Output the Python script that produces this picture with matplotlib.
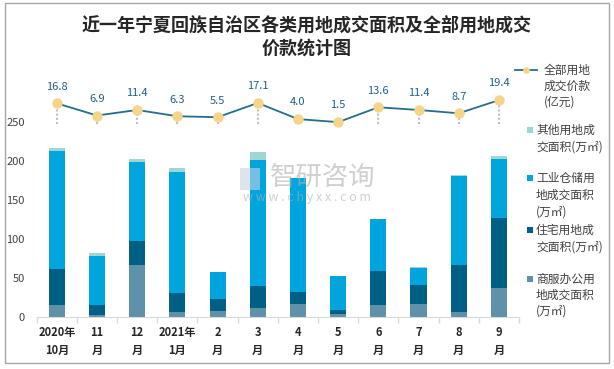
import numpy as np
import matplotlib
matplotlib.use("Agg")
import matplotlib.pyplot as plt
from matplotlib.patches import Rectangle
from matplotlib.lines import Line2D

plt.rcParams['font.family'] = ['Noto Sans CJK SC', 'DejaVu Sans']

categories = ["2020年\n10月", "11\n月", "12\n月", "2021年\n1月", "2\n月", "3\n月",
              "4\n月", "5\n月", "6\n月", "7\n月", "8\n月", "9\n月"]
commercial = [15.4, 2.6, 66.8, 6.4, 7.7, 11.6, 16.7, 3.9, 15.4, 16.7, 6.4, 37.2]
residential = [46.2, 12.8, 30.8, 24.4, 15.4, 28.2, 15.4, 5.1, 43.7, 24.4, 60.4, 89.9]
industrial = [151.5, 62.9, 101.4, 155.3, 34.7, 161.7, 146.3, 43.6, 66.7, 21.8, 114.2, 75.7]
other = [3.9, 3.9, 3.8, 5.2, 0, 10.3, 0, 0, 0, 1.3, 1.3, 3.9]
price = [16.8, 6.9, 11.4, 6.3, 5.5, 17.1, 4.0, 1.5, 13.6, 11.4, 8.7, 19.4]
yticks = [0, 50, 100, 150, 200, 250]

c_com = '#5f91a8'
c_res = '#005f85'
c_ind = '#00a5dd'
c_oth = '#9fd6d4'
c_line = '#236d8d'
c_mark = '#f6d58a'
c_lab = '#1f5f8b'

W, H = 614, 369
fx = lambda px: px / W
fy = lambda py: 1 - py / H

fig = plt.figure(figsize=(6.14, 3.69), dpi=100)
ax = fig.add_axes([fx(36.7), fy(317), (519 - 36.7) / W, (317 - 83.3) / H])
x = np.arange(len(categories))
bw = 0.4
com = np.array(commercial); res = np.array(residential)
ind = np.array(industrial); oth = np.array(other)
ax.bar(x, com, bw, color=c_com, zorder=2)
ax.bar(x, res, bw, bottom=com, color=c_res, zorder=2)
ax.bar(x, ind, bw, bottom=com + res, color=c_ind, zorder=2)
ax.bar(x, oth, bw, bottom=com + res + ind, color=c_oth, zorder=2)
ax.set_xlim(-0.5, len(categories) - 0.5)
ax.set_ylim(0, 300)
ax.set_yticks(yticks)
ax.tick_params(axis='y', length=0, pad=8.5, labelsize=8, labelcolor='#404040')
ax.set_xticks(x)
ax.set_xticklabels(categories)
ax.set_xticks(np.arange(-0.5, len(categories)), minor=True)
ax.tick_params(axis='x', which='major', length=0, pad=6.5, labelsize=8, labelcolor='#262626')
ax.tick_params(axis='x', which='minor', length=4, color='#d9d9d9', width=1)
for lbl in ax.get_xticklabels():
    lbl.set_linespacing(1.45)
    lbl.set_fontweight('bold')
for s in ['top', 'right', 'left']:
    ax.spines[s].set_visible(False)
ax.spines['bottom'].set_color('#d9d9d9')

ax2 = ax.twinx()
ax2.set_ylim(-157, 33.1)
ax2.axis('off')
ax2.vlines(x, 0, price, colors='#bfbfbf', linestyles=(0, (1, 1)), linewidth=1.5, zorder=1)
ax2.plot(x, price, color=c_line, lw=1.3, marker='o', ms=6.5, mfc=c_mark, mec=c_mark, zorder=3)
for xi, v in zip(x, price):
    ax2.annotate(f"{v:.1f}", (xi, v), xytext=(0, 12), textcoords='offset points',
                 ha='center', va='center', fontsize=8, color=c_lab)

# title
fig.text(fx(307), fy(25), "近一年宁夏回族自治区各类用地成交面积及全部用地成交", ha='center', va='center',
         fontsize=13, fontweight='bold', color='#262626')
fig.text(fx(307), fy(48), "价款统计图", ha='center', va='center',
         fontsize=13, fontweight='bold', color='#262626')

# watermark
fig.text(fx(323), fy(177), "智研咨询", ha='center', va='center', fontsize=19,
         color='#b0b0b0', alpha=0.6, zorder=10)
fig.text(fx(307), fy(197), "w w w . c h y x x . c o m", ha='center', va='center', fontsize=9,
         color='#b0b0b0', alpha=0.6, zorder=10)
fig.add_artist(Rectangle((fx(240), fy(190)), 20 / W, 22 / H, transform=fig.transFigure,
                         facecolor='#c5d3e3', edgecolor='none', alpha=0.6, zorder=10))

# legend
tc = '#404040'
fs = 8.5
fig.add_artist(Line2D([fx(515), fx(537)], [fy(70), fy(70)], color=c_line, lw=1.3,
                      transform=fig.transFigure))
fig.add_artist(Line2D([fx(526)], [fy(70)], marker='o', ms=3.8, mfc=c_mark, mec=c_mark,
                      transform=fig.transFigure))
for t, yy in zip(["全部用地", "成交价款", "(亿元)"], [70, 86.7, 101.7]):
    fig.text(fx(544), fy(yy), t, ha='left', va='center', fontsize=fs, color=tc)

entries = [
    (c_oth, 130, ["其他用地成", "交面积(万㎡)"], [130, 146.7]),
    (c_ind, 178, ["工业仓储用", "地成交面积", "(万㎡)"], [178, 195.5, 212.3]),
    (c_res, 230, ["住宅用地成", "交面积(万㎡)"], [230, 246.7]),
    (c_com, 279, ["商服办公用", "地成交面积", "(万㎡)"], [279, 295.5, 311.5]),
]
for col, yc, lines, ys in entries:
    fig.add_artist(Rectangle((fx(526.5), fy(yc + 3)), 6 / W, 6 / H, transform=fig.transFigure,
                             facecolor=col, edgecolor='none'))
    for t, yy in zip(lines, ys):
        fig.text(fx(536), fy(yy), t, ha='left', va='center', fontsize=fs, color=tc)

# frame
fig.add_artist(Rectangle((fx(4.5), fy(362.7)), (609 - 4.5) / W, (362.7 - 2.7) / H,
                         transform=fig.transFigure, fill=False, edgecolor='#a6a6a6', lw=1))

fig.savefig("out.png", dpi=100)
